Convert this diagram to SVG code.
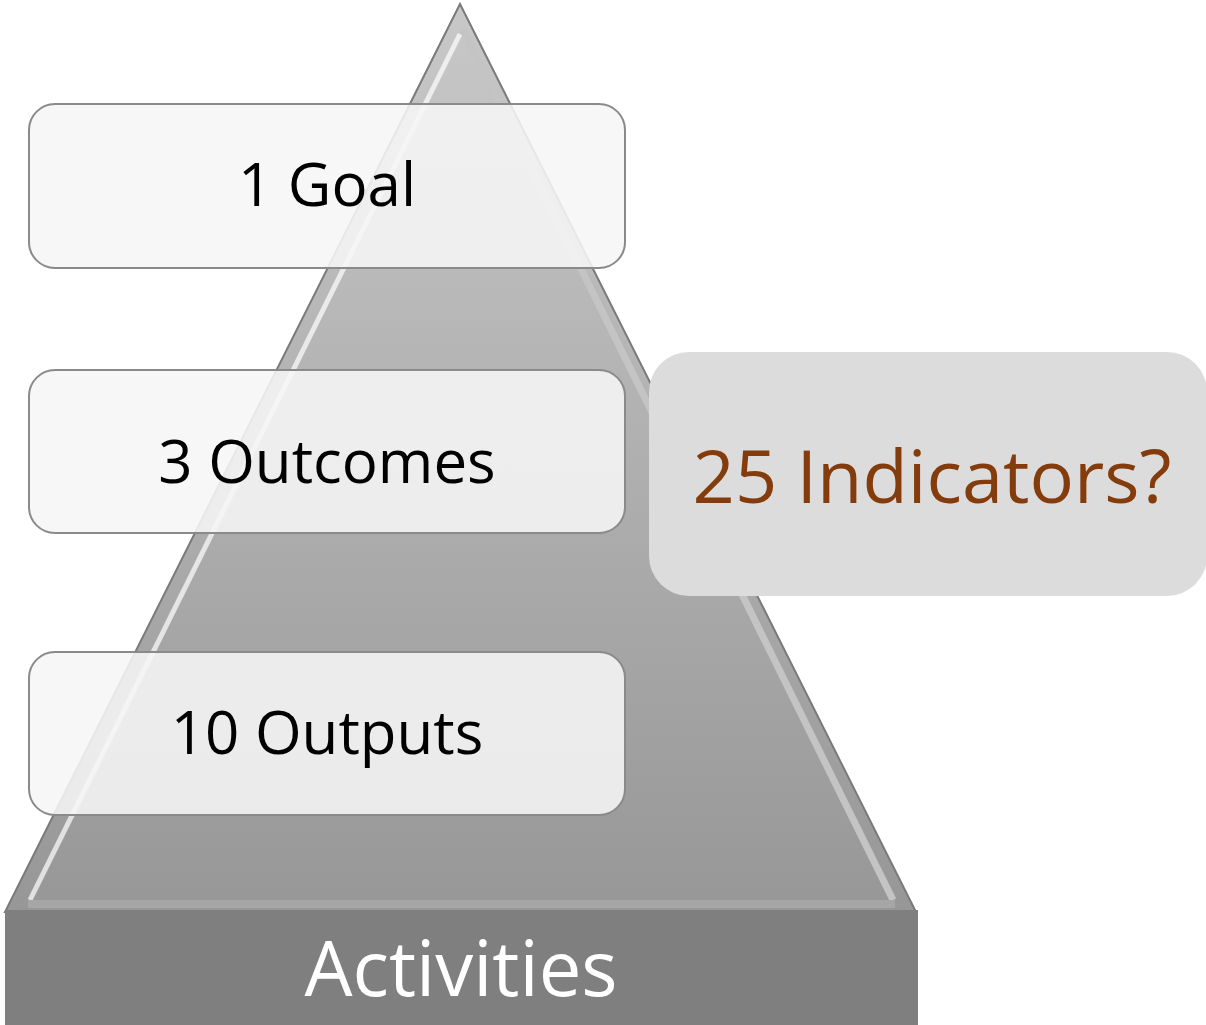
<svg xmlns="http://www.w3.org/2000/svg" width="1206" height="1025" viewBox="0 0 1206 1025">
<defs>
<linearGradient id="tri" x1="0" y1="0" x2="0" y2="1">
<stop offset="0" stop-color="#c8c8c8"/>
<stop offset="1" stop-color="#979797"/>
</linearGradient>
<style>
.box{fill:#f6f6f6;fill-opacity:0.88;stroke:#8a8a8a;stroke-width:2}
.lbl{font-family:"Open Sans","Liberation Sans",sans-serif;font-size:60px;fill:#000;text-anchor:middle}
</style>
</defs>
<g id="pyramid">
<polygon points="460,4 5,912 916,912" fill="url(#tri)" stroke="#7a7a7a" stroke-width="2"/>
<polyline points="460,34 30,900" fill="none" stroke="#ffffff" stroke-opacity="0.7" stroke-width="5"/>
<polyline points="463,30 893,900" fill="none" stroke="#c4c4c4" stroke-width="7"/>
<line x1="28" y1="904" x2="895" y2="904" stroke="#a6a6a6" stroke-width="8"/>
</g>
<g id="activities">
<rect x="5" y="910" width="913" height="115" fill="#7f7f7f"/>
<text x="461" y="996" font-family="'Open Sans','Liberation Sans',sans-serif" font-size="76" fill="#ffffff" text-anchor="middle">Activities</text>
</g>
<g id="goal">
<rect class="box" x="29" y="104" width="596" height="164" rx="26"/>
<text class="lbl" x="327" y="206">1 Goal</text>
</g>
<g id="outcomes">
<rect class="box" x="29" y="370" width="596" height="163" rx="26"/>
<text class="lbl" x="327" y="483">3 Outcomes</text>
</g>
<g id="outputs">
<rect class="box" x="29" y="652" width="596" height="163" rx="26"/>
<text class="lbl" x="327" y="754">10 Outputs</text>
</g>
<g id="indicators">
<rect x="649" y="352" width="558" height="244" rx="40" fill="#dcdcdc"/>
<text x="932" y="503" font-family="'Open Sans','Liberation Sans',sans-serif" font-size="74" fill="#843c0c" text-anchor="middle">25 Indicators?</text>
</g>
</svg>
